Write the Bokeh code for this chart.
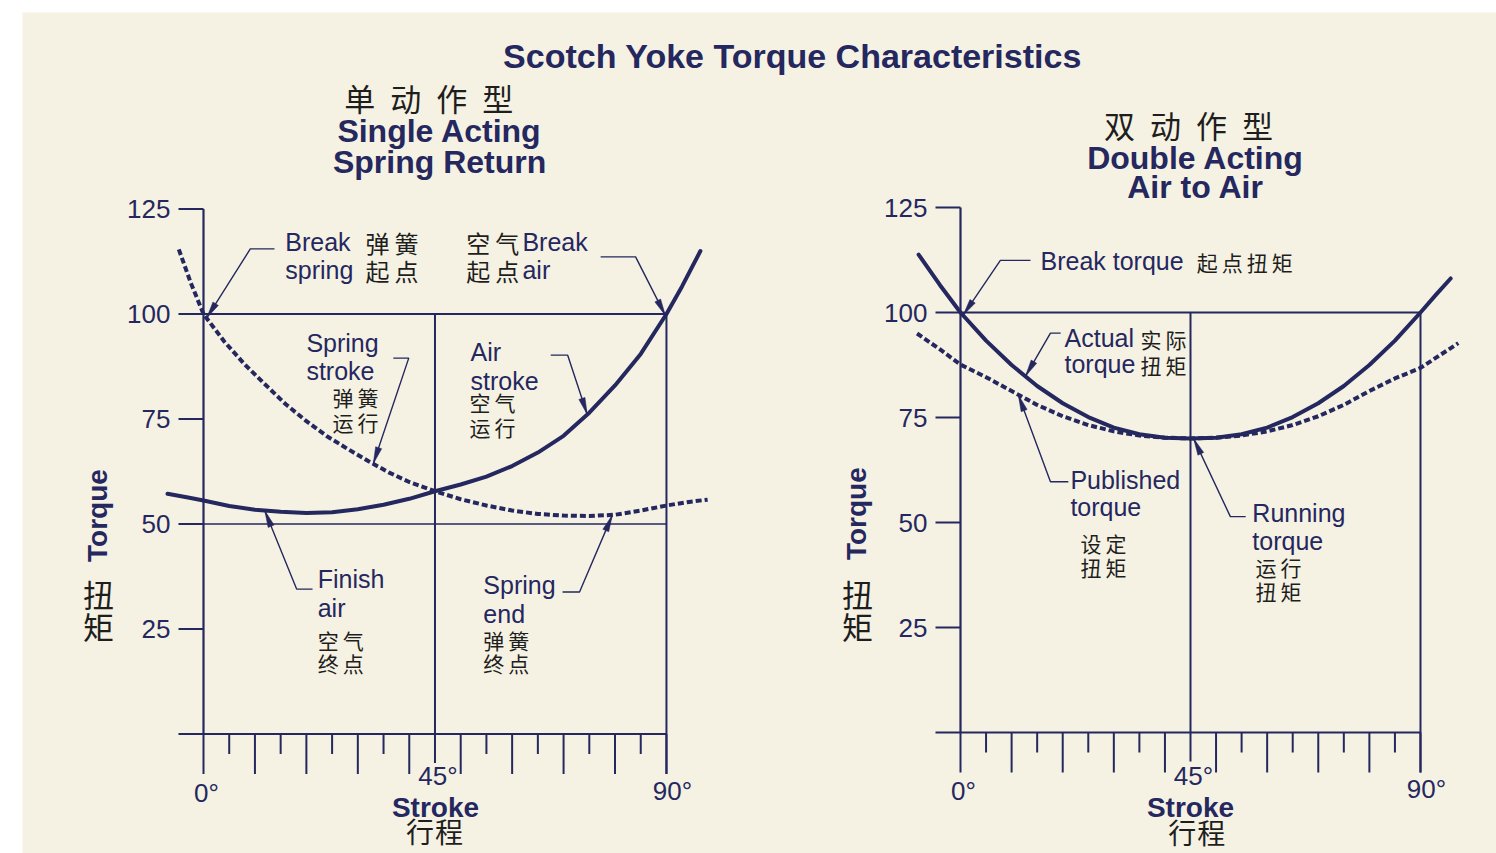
import numpy as np
from bokeh.plotting import figure
from bokeh.models import Range1d
from bokeh.core.properties import value
from bokeh.embed import file_html
from bokeh.resources import INLINE

# ---------------- data ----------------
main_title = "Scotch Yoke Torque Characteristics"

y_ticks = [25, 50, 75, 100, 125]
y_tick_labels = ["25", "50", "75", "100", "125"]
x_long_ticks = [0, 10, 20, 30, 40, 50, 60, 70, 80, 90]
x_short_ticks = [5, 15, 25, 35, 55, 65, 75, 85]
x_label_ticks = [0, 45, 90]
x_tick_labels = ["0°", "45°", "90°"]

# Single acting, spring return (stroke in degrees, torque in %)
sa_spring_deg = [-4.8, -2.5, 0, 4, 8, 12, 16, 20, 24, 28, 32, 36, 40, 45,
                 50, 55, 60, 65, 70, 75, 80, 85, 90, 94, 98]
sa_spring_torque = [115.4, 107.5, 100, 93.5, 88.0, 83.2, 78.5, 74.5, 70.9, 67.9, 65.0,
                    62.3, 60.0, 57.8, 55.9, 54.4, 53.2, 52.4, 52.0, 51.9, 52.2, 53.2,
                    54.4, 55.2, 55.8]
sa_air_deg = [-7, -3, 0, 5, 10, 15, 20, 25, 30, 35, 40, 45, 50, 55, 60, 65, 70, 75,
              80, 85, 90, 93, 96.6]
sa_air_torque = [57.2, 56.3, 55.6, 54.3, 53.4, 52.9, 52.6, 52.8, 53.5, 54.6, 56.0, 57.8,
                 59.4, 61.3, 63.8, 67.0, 71.0, 76.5, 83.0, 90.5, 100.0, 106.5, 115.0]

# Double acting, air to air
da_actual_deg = [-8.2, -4, 0, 5, 10, 15, 20, 25, 30, 35, 40, 45, 50, 55, 60, 65, 70,
                 75, 80, 85, 90, 93, 95.9]
da_actual_torque = [113.8, 106.5, 100, 93.3, 87.5, 82.5, 78.4, 75.1, 72.6, 71.0, 70.2,
                    70.0, 70.2, 71.0, 72.6, 75.1, 78.4, 82.5, 87.5, 93.3, 100, 104.2,
                    108.1]
da_published_deg = [-8.5, -4, 0, 5, 10, 15, 20, 25, 30, 35, 40, 45, 50, 55, 60, 65, 70,
                    75, 80, 85, 90, 94, 97.4]
da_published_torque = [95.0, 91.2, 87.6, 84.6, 81.3, 78.0, 75.3, 73.2, 71.7, 70.7, 70.2,
                       70.0, 70.2, 70.7, 71.7, 73.2, 75.3, 78.0, 81.3, 84.3, 86.8, 90.0,
                       92.7]

# ---------------- style / layout ----------------
BG = "#f5f2e3"
NAVY = "#25275f"
INK = "#1e1e1e"
LATIN = value("Liberation Sans")
CJK = value("Noto Sans CJK SC")

W, H = 1496, 853
FRAME_L, FRAME_T = 22, 12          # white margin of the scanned sheet

p = figure(width=W, height=H, output_backend="svg", toolbar_location=None, title=None,
           x_axis_type=None, y_axis_type=None,
           min_border_left=FRAME_L, min_border_top=FRAME_T,
           min_border_right=0, min_border_bottom=0,
           x_range=Range1d(0, 1), y_range=Range1d(0, 1))
p.background_fill_color = BG
p.border_fill_color = "white"
p.outline_line_color = None

p.extra_x_ranges = {"page": Range1d(FRAME_L, W)}
p.extra_y_ranges = {"page": Range1d(H, FRAME_T)}


def add_ranges(name, x0_px, sx, y0_px, sy):
    p.extra_x_ranges[name] = Range1d((FRAME_L - x0_px) / sx, (W - x0_px) / sx)
    p.extra_y_ranges[name] = Range1d((y0_px - H) / sy, (y0_px - FRAME_T) / sy)


def latin(rk, x, y, txt, size=25, bold=False, align="left", angle=0.0, color=NAVY):
    p.text(x=[x], y=[y], text=[txt], text_font=LATIN, text_font_size=f"{size}px",
           text_font_style="bold" if bold else "normal", text_color=color,
           text_align=align, text_baseline="middle", angle=angle, **rk)


def cjk(rk, x, y, chars, size=21, pitch=25, align="left"):
    n = len(chars)
    if align == "left":
        offs = [i * pitch for i in range(n)]
    else:
        offs = [(i - (n - 1) / 2) * pitch for i in range(n)]
    p.text(x=[x] * n, y=[y] * n, text=list(chars), x_offset=offs,
           text_font=CJK, text_font_size=f"{size}px", text_color=INK,
           text_align="left" if align == "left" else "center",
           text_baseline="middle", **rk)


def leader(rk, e1, e2, curve_x, curve_y, tip_deg, sx, sy, L=17, W_=3.2):
    tx = tip_deg
    ty = float(np.interp(tip_deg, curve_x, curve_y))
    p.line([e1[0], e2[0], tx], [e1[1], e2[1], ty], line_width=1.4, color=NAVY, **rk)
    dx = (e2[0] - tx) * sx
    dy = (e2[1] - ty) * sy
    n = np.hypot(dx, dy)
    ux, uy = dx / n, dy / n
    bx, by = L * ux, L * uy
    qx, qy = -uy * W_, ux * W_
    p.patch([tx, tx + (bx + qx) / sx, tx + (bx - qx) / sx],
            [ty, ty + (by + qy) / sy, ty + (by - qy) / sy],
            color=NAVY, line_width=0.5, **rk)


def make_chart(spec):
    name = spec["name"]
    sx, sy = spec["sx"], spec["sy"]
    add_ranges(name, spec["x0_px"], sx, spec["y0_px"], sy)
    rk = dict(x_range_name=name, y_range_name=name)

    ytick = 25 / sx
    long_t = 40 / sy
    short_t = 20 / sy

    # frame lines
    p.line([0, 0], [y_ticks[-1], 0], line_width=2.2, color=NAVY, **rk)
    p.segment(x0=[-ytick] * len(y_ticks), y0=y_ticks, x1=[0] * len(y_ticks), y1=y_ticks,
              line_width=2, color=NAVY, **rk)
    p.segment(x0=[-ytick], y0=[0], x1=[90], y1=[0], line_width=2.2, color=NAVY, **rk)
    for yv, lw in spec["h_lines"]:
        p.segment(x0=[0], y0=[yv], x1=[90], y1=[yv], line_width=lw, color=NAVY, **rk)
    p.segment(x0=[45], y0=[100], x1=[45], y1=[-29 / sy], line_width=2, color=NAVY, **rk)
    p.segment(x0=[90], y0=[100], x1=[90], y1=[-long_t], line_width=2, color=NAVY, **rk)
    p.segment(x0=x_long_ticks, y0=[0] * len(x_long_ticks), x1=x_long_ticks,
              y1=[-long_t] * len(x_long_ticks), line_width=2, color=NAVY, **rk)
    p.segment(x0=x_short_ticks, y0=[0] * len(x_short_ticks), x1=x_short_ticks,
              y1=[-short_t] * len(x_short_ticks), line_width=2, color=NAVY, **rk)

    # tick labels
    p.text(x=[0] * len(y_ticks), y=y_ticks, text=y_tick_labels, x_offset=-33,
           text_font=LATIN, text_font_size="26px", text_color=NAVY,
           text_align="right", text_baseline="middle", **rk)
    p.text(x=x_label_ticks, y=[0] * 3, text=x_tick_labels,
           x_offset=[3, 3, 6], y_offset=spec["xlab_dy"],
           text_font=LATIN, text_font_size="26px", text_color=NAVY,
           text_align="center", text_baseline="middle", **rk)

    # axis titles
    tx, ty = spec["torque_label"]
    latin(rk, tx, ty, "Torque", size=28, bold=True, align="center", angle=np.pi / 2)
    cx, cy1, cy2 = spec["torque_cjk"]
    cjk(rk, cx, cy1, "扭", size=31, pitch=0, align="center")
    cjk(rk, cx, cy2, "矩", size=31, pitch=0, align="center")
    sxl, syl = spec["stroke_label"]
    latin(rk, sxl, syl, "Stroke", size=28, bold=True, align="center")
    gx, gy = spec["stroke_cjk"]
    cjk(rk, gx, gy, "行程", size=28, pitch=29, align="center")

    # chart titles
    ctx, cty, chars = spec["cjk_title"]
    cjk(rk, ctx, cty, chars, size=31, pitch=46, align="center")
    for txt, x, y in spec["en_title"]:
        latin(rk, x, y, txt, size=32, bold=True, align="center")

    # curves
    for cx_, cy_, dashed in spec["curves"]:
        if dashed:
            p.line(cx_, cy_, line_width=4, color=NAVY, line_dash="6 3", **rk)
        else:
            p.line(cx_, cy_, line_width=4, color=NAVY, line_join="round",
                   line_cap="round", **rk)

    # annotations
    for txt, x, y in spec["ann_latin"]:
        latin(rk, x, y, txt, size=25)
    for chars, x, y, size, pitch in spec["ann_cjk"]:
        cjk(rk, x, y, chars, size=size, pitch=pitch)
    for e1, e2, cxs, cys, tip in spec["leaders"]:
        leader(rk, e1, e2, cxs, cys, tip, sx, sy)


left_spec = dict(
    name="SA", x0_px=203, sx=5.144, y0_px=733.5, sy=4.2,
    h_lines=[(100, 2), (50, 1.6)],
    xlab_dy=[58.5, 41.5, 56.5],
    torque_label=(-20.6, 52.0), torque_cjk=(-20.4, 33.5, 25.8),
    stroke_label=(45.1, -17.5), stroke_cjk=(44.9, -23.2),
    cjk_title=(43.8, 151.5, "单动作型"),
    en_title=[("Single Acting", 45.9, 143.5), ("Spring Return", 45.9, 136.1)],
    curves=[(sa_spring_deg, sa_spring_torque, True), (sa_air_deg, sa_air_torque, False)],
    ann_latin=[("Break", 15.9, 117.2), ("spring", 15.9, 110.5),
               ("Break", 62.0, 117.2), ("air", 62.0, 110.5),
               ("Spring", 20.0, 93.2), ("stroke", 20.0, 86.4),
               ("Air", 51.9, 90.9), ("stroke", 51.9, 84.0),
               ("Finish", 22.2, 36.8), ("air", 22.2, 30.0),
               ("Spring", 54.4, 35.4), ("end", 54.4, 28.6)],
    ann_cjk=[("弹簧", 31.5, 117.0, 24, 29), ("起点", 31.5, 110.3, 24, 29),
             ("空气", 51.1, 117.0, 24, 29), ("起点", 51.1, 110.3, 24, 29),
             ("弹簧", 25.1, 80.2, 21, 25), ("运行", 25.1, 74.3, 21, 25),
             ("空气", 51.7, 79.0, 21, 25), ("运行", 51.7, 73.1, 21, 25),
             ("空气", 22.2, 22.4, 21, 25), ("终点", 22.2, 16.9, 21, 25),
             ("弹簧", 54.4, 22.4, 21, 25), ("终点", 54.4, 16.9, 21, 25)],
    leaders=[((13.8, 115.5), (9.1, 115.5), sa_spring_deg, sa_spring_torque, 0.6),
             ((77.2, 113.6), (84.0, 113.6), sa_air_deg, sa_air_torque, 89.8),
             ((36.9, 89.5), (39.9, 89.5), sa_spring_deg, sa_spring_torque, 33.0),
             ((67.5, 90.2), (70.8, 90.2), sa_air_deg, sa_air_torque, 74.6),
             ((21.2, 34.5), (18.1, 34.5), sa_air_deg, sa_air_torque, 11.9),
             ((69.8, 33.8), (73.1, 33.8), sa_spring_deg, sa_spring_torque, 79.5)],
)

right_spec = dict(
    name="DA", x0_px=960, sx=5.111, y0_px=732, sy=4.2,
    h_lines=[(100, 2)],
    xlab_dy=[58, 43, 56],
    torque_label=(-20.35, 52.1), torque_cjk=(-20.15, 33.1, 25.5),
    stroke_label=(45.0, -17.9), stroke_cjk=(46.2, -23.6),
    cjk_title=(44.6, 144.8, "双动作型"),
    en_title=[("Double Acting", 46.0, 136.9), ("Air to Air", 46.0, 129.8)],
    curves=[(da_published_deg, da_published_torque, True),
            (da_actual_deg, da_actual_torque, False)],
    ann_latin=[("Break torque", 15.65, 112.2),
               ("Actual", 20.35, 93.9), ("torque", 20.35, 87.7),
               ("Published", 21.5, 60.2), ("torque", 21.5, 53.75),
               ("Running", 57.1, 52.3), ("torque", 57.1, 45.7)],
    ann_cjk=[("起点扭矩", 46.2, 112.1, 21, 25),
             ("实际", 35.2, 93.8, 21, 25), ("扭矩", 35.2, 87.6, 21, 25),
             ("设定", 23.5, 45.2, 21, 25), ("扭矩", 23.5, 39.5, 21, 25),
             ("运行", 57.7, 39.5, 21, 25), ("扭矩", 57.7, 33.8, 21, 25)],
    leaders=[((13.7, 112.4), (7.8, 112.4), da_actual_deg, da_actual_torque, 0.5),
             ((19.6, 95.1), (17.6, 95.1), da_actual_deg, da_actual_torque, 12.7),
             ((21.1, 59.7), (17.6, 59.7), da_published_deg, da_published_torque, 11.3),
             ((55.8, 51.4), (52.8, 51.4), da_actual_deg, da_actual_torque, 45.6)],
)

make_chart(left_spec)
make_chart(right_spec)

# main title in page units
p.text(x=[792], y=[55], text=[main_title], text_font=LATIN,
       text_font_size="34px", text_font_style="bold", text_color=NAVY,
       text_align="center", text_baseline="middle",
       x_range_name="page", y_range_name="page")

with open("out.html", "w") as f:
    f.write(file_html(p, INLINE))
